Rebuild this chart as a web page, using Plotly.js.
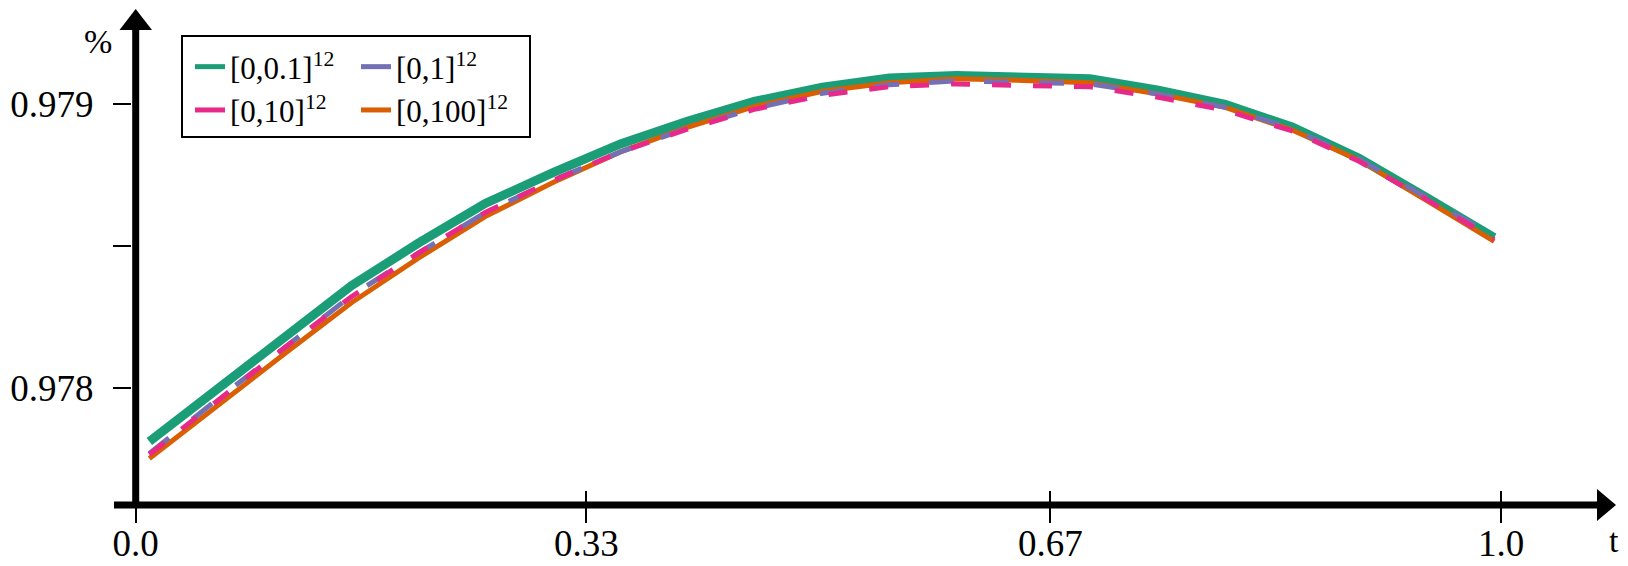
<!DOCTYPE html>
<html>
<head>
<meta charset="utf-8">
<script src="https://cdn.plot.ly/plotly-3.0.1.min.js"></script>
<style>
  html, body { margin: 0; padding: 0; background: #fff; }
  #graph { width: 1628px; height: 566px; }
</style>
</head>
<body>
<div id="graph"></div>
<script>
// data
const tValues = [0.01, 0.059, 0.109, 0.158, 0.207, 0.256, 0.306, 0.355, 0.404, 0.453, 0.503,
  0.552, 0.601, 0.65, 0.699, 0.749, 0.798, 0.847, 0.896, 0.946, 0.995];

const box01 = [0.97781, 0.97799, 0.97818, 0.97836, 0.97851, 0.97865, 0.97876, 0.97886, 0.97894, 0.97901, 0.97906,
  0.979093, 0.979102, 0.979098, 0.97909, 0.97905, 0.97900, 0.97892, 0.97881, 0.97867, 0.97853];
const box1 = [0.977768, 0.977956, 0.978141, 0.978325, 0.978475, 0.978618, 0.978732, 0.978832, 0.978915, 0.978985, 0.979039,
  0.979069, 0.979083, 0.979077, 0.979072, 0.979036, 0.978989, 0.978913, 0.978806, 0.978670, 0.978534];
const box10 = [0.977764, 0.977953, 0.978141, 0.978321, 0.978475, 0.978618, 0.978732, 0.978832, 0.978912, 0.978982, 0.979032,
  0.979062, 0.979072, 0.979066, 0.979062, 0.979025, 0.978979, 0.978906, 0.978799, 0.978663, 0.978523];
const box100 = [0.97775, 0.977935, 0.97812, 0.97830, 0.978457, 0.978604, 0.978725, 0.978832, 0.978919, 0.978992, 0.979046,
  0.979076, 0.979090, 0.979084, 0.979076, 0.979036, 0.978989, 0.978909, 0.978803, 0.978659, 0.978516];

const seriesNames = ["[0,0.1]<sup>12</sup>", "[0,1]<sup>12</sup>", "[0,10]<sup>12</sup>", "[0,100]<sup>12</sup>"];

const xTickVals = [0, 0.33, 0.67, 1.0];
const xTickText = ["0.0", "0.33", "0.67", "1.0"];
const yTickVals = [0.978, 0.9785, 0.979];
const yTickText = ["0.978", "", "0.979"];

// colours (Dark2)
const GREEN = "#1b9e77", ORANGE = "#d95f02", PURPLE = "#7570b3", PINK = "#e7298a";
const SERIF = "Liberation Serif, Times New Roman, serif";

// plot area in pixels
const W = 1628, H = 566;
const L = 132, R = 1590, T = 20, B = 490;
const px2x = (p) => (p - L) / (R - L);
const py2y = (p) => (B - p) / (B - T);

// axis scale: t=0 at 135.7px, 1365.3px per unit; 0.979 at 104.3px, 283.4px per 0.001
const xRange = [(L - 135.7) / 1365.3, (R - 135.7) / 1365.3];
const yRange = [0.979 - (B - 104.3) / 283400, 0.979 + (104.3 - T) / 283400];

const line = (x, y, color, width, dash) => ({
  x: x, y: y, type: "scatter", mode: "lines", showlegend: false, hoverinfo: "skip",
  line: { color: color, width: width, dash: dash || "solid" },
});

const legendEntry = (name, color, legend) => ({
  x: [null], y: [null], type: "scatter", mode: "lines", name: name, legend: legend,
  line: { color: color, width: 5 },
});

const data = [
  line(tValues, box01, GREEN, 9),
  line(tValues, box100, ORANGE, 5),
  line(tValues, box1, PURPLE, 5, "25px,30px"),
  line(tValues, box10, PINK, 5, "19px,22px"),
  legendEntry(seriesNames[0], GREEN, "legend"),
  legendEntry(seriesNames[2], PINK, "legend"),
  legendEntry(seriesNames[1], PURPLE, "legend2"),
  legendEntry(seriesNames[3], ORANGE, "legend2"),
];

const legendStyle = (xPx) => ({
  x: px2x(xPx), y: py2y(40), xref: "paper", yref: "paper",
  xanchor: "left", yanchor: "top", orientation: "v",
  bgcolor: "rgba(0,0,0,0)", borderwidth: 0,
  font: { family: SERIF, size: 31, color: "#000" },
  traceorder: "normal",
});

const layout = {
  width: W, height: H,
  margin: { l: L, r: W - R, t: T, b: H - B, pad: 0, autoexpand: false },
  paper_bgcolor: "#fff", plot_bgcolor: "#fff",
  font: { family: SERIF, color: "#000" },
  xaxis: {
    range: xRange, showgrid: false, zeroline: false, showline: false, automargin: false,
    tickmode: "array", tickvals: xTickVals, ticktext: xTickText,
    ticks: "outside", ticklen: 32, tickwidth: 2, tickcolor: "#000",
    ticklabelstandoff: -11,
    tickfont: { family: SERIF, size: 37, color: "#000" },
  },
  yaxis: {
    range: yRange, showgrid: false, zeroline: false, showline: false, automargin: false,
    tickmode: "array", tickvals: yTickVals, ticktext: yTickText,
    ticks: "outside", ticklen: 18, tickwidth: 2, tickcolor: "#000",
    ticklabelstandoff: 12,
    tickfont: { family: SERIF, size: 37, color: "#000" },
  },
  showlegend: true,
  legend: legendStyle(190),
  legend2: legendStyle(356),
  shapes: [
    // legend frame
    { type: "rect", xref: "paper", yref: "paper", layer: "below",
      x0: px2x(182), x1: px2x(530), y0: py2y(137), y1: py2y(36),
      line: { color: "#000", width: 2 }, fillcolor: "#fff" },
    // y axis with arrow
    { type: "line", xref: "paper", yref: "paper",
      x0: px2x(135.7), x1: px2x(135.7), y0: py2y(508), y1: py2y(28),
      line: { color: "#000", width: 7 } },
    { type: "path", xref: "paper", yref: "paper", fillcolor: "#000", line: { width: 0 },
      path: `M ${px2x(119.5)} ${py2y(30)} L ${px2x(135.7)} ${py2y(9)} L ${px2x(152)} ${py2y(30)} Z` },
    // x axis with arrow
    { type: "line", xref: "paper", yref: "paper",
      x0: px2x(114), x1: px2x(1600), y0: py2y(505), y1: py2y(505),
      line: { color: "#000", width: 7 } },
    { type: "path", xref: "paper", yref: "paper", fillcolor: "#000", line: { width: 0 },
      path: `M ${px2x(1597)} ${py2y(489)} L ${px2x(1616)} ${py2y(505)} L ${px2x(1597)} ${py2y(521)} Z` },
  ],
  annotations: [
    { text: "%", xref: "paper", yref: "paper", x: px2x(98), y: py2y(42),
      xanchor: "center", yanchor: "middle", showarrow: false,
      font: { family: SERIF, size: 34, color: "#000" } },
    { text: "t", xref: "paper", yref: "paper", x: px2x(1614), y: py2y(540),
      xanchor: "center", yanchor: "middle", showarrow: false,
      font: { family: SERIF, size: 34, color: "#000" } },
  ],
};

Plotly.newPlot("graph", data, layout, { staticPlot: true, displayModeBar: false });
</script>
</body>
</html>
